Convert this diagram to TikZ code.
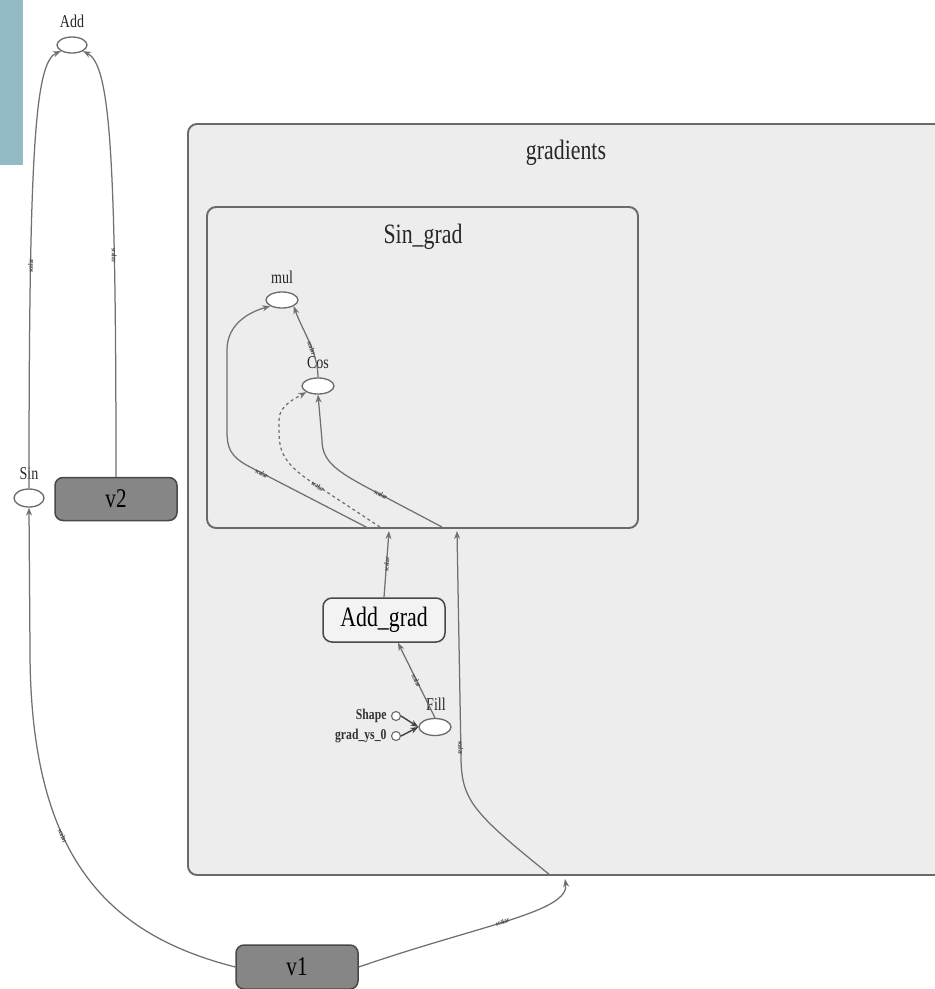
\documentclass[tikz,border=0pt]{standalone}
\usepackage{fontspec}
\setmainfont{Liberation Serif}[FakeStretch=0.78]
\usetikzlibrary{arrows.meta,shapes.geometric}
\definecolor{sidebar}{HTML}{93BAC5}
\definecolor{clusterfill}{HTML}{EDEDED}
\definecolor{clusterline}{HTML}{6A6A6A}
\definecolor{edgegray}{HTML}{707070}
\definecolor{varfill}{HTML}{868686}
\definecolor{varline}{HTML}{484848}
\definecolor{metafill}{HTML}{F3F3F3}
\definecolor{opline}{HTML}{6A6A6A}
\tikzset{
  opnode/.style={ellipse, draw=opline, line width=1.3pt, fill=white, minimum width=30pt, minimum height=16pt, inner sep=0pt},
  constnode/.style={circle, draw=opline, line width=1.1pt, fill=white, minimum size=9pt, inner sep=0pt},
  varnode/.style={rectangle, rounded corners=8pt, draw=varline, line width=1.5pt, fill=varfill, minimum width=122pt, minimum height=43pt, font=\fontsize{27}{29}\selectfont},
  metanode/.style={rectangle, rounded corners=9pt, draw=varline, line width=1.5pt, fill=metafill, minimum width=122pt, minimum height=44pt, font=\fontsize{28}{30}\selectfont},
  clusterbox/.style={rectangle, rounded corners=9pt, draw=clusterline, line width=1.9pt, fill=clusterfill, inner sep=0pt},
  cltitle/.style={font=\fontsize{28}{30}\selectfont, text=black!85},
  oplabel/.style={font=\fontsize{18}{19}\selectfont, text=black!85},
  constlabel/.style={font=\fontsize{15}{16}\selectfont\bfseries, text=black!80},
  edge/.style={draw=edgegray, line width=1.25pt, -{Stealth[length=8pt,width=6pt]}},
  darkedge/.style={draw=black!75, line width=1.4pt, -{Stealth[length=8pt,width=6pt]}},
  elab/.style={font=\fontsize{7}{7}\selectfont\bfseries, text=black!75, inner sep=0.5pt, sloped},
}
\begin{document}
\begin{tikzpicture}[x=1pt,y=-1pt]
\useasboundingbox (0,0) rectangle (935,989);
\fill[white] (0,0) rectangle (935,989);
% sidebar strip
\fill[sidebar] (0,0) rectangle (23,165);

% clusters
\node[clusterbox, minimum width=757pt, minimum height=751pt] (gradients) at (566.5,499.5) {};
\node[cltitle] (gradtitle) at (566,153) {gradients};
\node[clusterbox, minimum width=431pt, minimum height=321pt] (singrad) at (422.5,367.5) {};
\node[cltitle] (singradtitle) at (423,237) {Sin\_grad};

% top level ops
\node[opnode] (add) at (72,45) {};
\node[oplabel] at (72,21) {Add};
\node[opnode, minimum height=18pt] (sin) at (29,498) {};
\node[oplabel] at (29,474) {Sin};
\node[varnode] (v2) at (116,499) {v2};
\node[varnode, minimum height=44pt] (v1) at (297,967) {v1};

% inside Sin_grad
\node[opnode, minimum width=32pt] (mul) at (282,300) {};
\node[oplabel] at (282,277) {mul};
\node[opnode, minimum width=32pt] (cos) at (318,386) {};
\node[oplabel] at (318,363) {Cos};

% inside gradients
\node[metanode] (addgrad) at (384,620) {Add\_grad};
\node[opnode, minimum width=32pt, minimum height=17pt] (fill) at (435,727) {};
\node[oplabel] at (436,704) {Fill};
\node[constnode] (shape) at (396,716) {};
\node[constlabel, anchor=east] at (390,716) {Shape};
\node[constnode] (gys) at (396,736) {};
\node[constlabel, anchor=east] at (390,736) {grad\_ys\_0};

% cluster ports
\coordinate (gin) at (565,879);
\coordinate (gbot) at (550,875);
\coordinate (sgin1) at (389,531);
\coordinate (sgin2) at (457,531);
\coordinate (s1) at (368,528);
\coordinate (s2) at (380,527);
\coordinate (s3) at (442,527);

% top-level edges
\draw[edge] (sin.north) .. controls (29,150) and (35,62) .. node[elab, pos=0.27] {scalar} (add.south west);
\draw[edge] (v2.north) .. controls (116,150) and (110,65) .. node[elab, pos=0.28] {scalar} (add.south east);
\draw[edge] (v1.west) .. controls (110,935) and (30,860) .. node[elab, pos=0.62] {scalar} (30,650) -- (sin.south);
\draw[edge] (v1.east) .. controls (480,925) and (570,912) .. node[elab, pos=0.47] {scalar} (gin);

% inside gradients
\draw[edge] (gbot) .. controls (472,812) and (461,800) .. (461,755) -- node[elab, pos=0.03] {scalar} (sgin2);
\draw[edge] (addgrad.north) -- node[elab, pos=0.5] {scalar} (sgin1);
\draw[edge] (fill.north) -- node[elab, pos=0.5] {scalar} ([xshift=14pt]addgrad.south);
\draw[darkedge] (shape.east) -- (fill.west);
\draw[darkedge] (gys.east) -- (fill.west);

% inside Sin_grad
\draw[edge] (s1) -- node[elab, pos=0.9] {scalar} (250,467) .. controls (229,456) and (227,447) .. (227,430) -- (227,350) .. controls (227,326) and (246,313) .. (mul.south west);
\draw[edge, dashed] (s2) -- node[elab, pos=0.85] {scalar} (307,479) .. controls (285,463) and (279,452) .. (279,432) -- (279,420) .. controls (279,406) and (294,399) .. (cos.south west);
\draw[edge] (s3) -- node[elab, pos=0.85] {scalar} (370,489) .. controls (336,471) and (322,461) .. (322,440) -- (cos.south);
\draw[edge] (cos.north) .. controls (318,352) and (302,330) .. node[elab, pos=0.4] {scalar} (mul.south east);
\end{tikzpicture}
\end{document}
